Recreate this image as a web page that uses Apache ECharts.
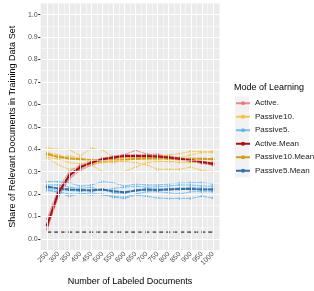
<!DOCTYPE html>
<html><head><meta charset="utf-8">
<script src="https://cdn.jsdelivr.net/npm/echarts@6/dist/echarts.min.js"></script>
<style>html,body{margin:0;padding:0;background:#fff}#c{width:314px;height:291px}</style>
</head><body><div id="c"></div>
<script>
const docs = [250,300,350,400,450,500,550,600,650,700,750,800,850,900,950,1000];
const yTicks = [0,0.1,0.2,0.3,0.4,0.5,0.6,0.7,0.8,0.9,1.0];
const baselineShare = 0.03;

const activeRuns = [
  [0.090,0.225,0.300,0.330,0.345,0.360,0.368,0.375,0.395,0.378,0.372,0.370,0.362,0.352,0.345,0.340],
  [0.072,0.212,0.290,0.325,0.342,0.356,0.368,0.376,0.372,0.376,0.378,0.366,0.360,0.356,0.346,0.332],
  [0.060,0.202,0.280,0.318,0.338,0.352,0.362,0.370,0.366,0.370,0.366,0.364,0.356,0.350,0.342,0.336],
  [0.050,0.192,0.272,0.312,0.332,0.348,0.358,0.366,0.362,0.364,0.360,0.356,0.352,0.346,0.338,0.328],
  [0.042,0.188,0.266,0.306,0.328,0.344,0.356,0.362,0.360,0.362,0.358,0.356,0.350,0.346,0.336,0.330]
];
const passive10Runs = [
  [0.405,0.400,0.398,0.370,0.405,0.395,0.365,0.350,0.365,0.370,0.365,0.375,0.380,0.390,0.390,0.385],
  [0.385,0.375,0.360,0.355,0.340,0.340,0.350,0.360,0.370,0.365,0.360,0.355,0.360,0.375,0.385,0.390],
  [0.375,0.365,0.370,0.360,0.350,0.345,0.340,0.350,0.355,0.350,0.350,0.345,0.350,0.345,0.350,0.360],
  [0.365,0.355,0.340,0.335,0.330,0.300,0.300,0.300,0.320,0.340,0.345,0.345,0.340,0.340,0.345,0.350],
  [0.360,0.330,0.310,0.320,0.335,0.340,0.345,0.345,0.340,0.330,0.310,0.310,0.310,0.320,0.305,0.300]
];
const passive5Runs = [
  [0.255,0.255,0.250,0.235,0.240,0.255,0.250,0.235,0.245,0.240,0.240,0.245,0.248,0.250,0.250,0.245],
  [0.240,0.240,0.230,0.225,0.230,0.215,0.225,0.230,0.235,0.230,0.232,0.236,0.240,0.240,0.236,0.235],
  [0.225,0.215,0.215,0.212,0.220,0.220,0.205,0.200,0.220,0.222,0.222,0.225,0.226,0.230,0.226,0.225],
  [0.220,0.205,0.190,0.200,0.205,0.195,0.190,0.185,0.200,0.210,0.210,0.205,0.200,0.210,0.210,0.210],
  [0.215,0.210,0.200,0.200,0.195,0.200,0.185,0.180,0.195,0.190,0.182,0.180,0.180,0.180,0.190,0.182]
];
const activeMean    = [0.062,0.205,0.283,0.320,0.340,0.355,0.363,0.370,0.371,0.370,0.367,0.363,0.357,0.350,0.343,0.335];
const passive10Mean = [0.378,0.365,0.358,0.355,0.350,0.350,0.350,0.352,0.357,0.358,0.358,0.360,0.358,0.357,0.357,0.355];
const passive5Mean  = [0.232,0.225,0.220,0.218,0.215,0.220,0.212,0.208,0.215,0.220,0.218,0.220,0.222,0.222,0.220,0.220];

const legendNames = ['Active.','Passive10.','Passive5.','Active.Mean','Passive10.Mean','Passive5.Mean'];
const colors = {
  'Active.':'#e36f74','Passive10.':'#f8bc2c','Passive5.':'#55aef0',
  'Active.Mean':'#a3111b','Passive10.Mean':'#cf9d22','Passive5.Mean':'#3570a8'
};
const FONT = 'Liberation Sans, Arial, sans-serif';

function pts(arr){ return docs.map((d,i)=>[d,arr[i]]); }

const step = docs[1]-docs[0];
const xMin = docs[0] - 0.6*step, xMax = docs[docs.length-1] + 0.6*step;
const yMin = -0.05, yMax = 1.05;

const gridLines = [];
docs.forEach(d=>gridLines.push({xAxis:d, lineStyle:{color:'#fff',width:1,type:'solid'}}));
docs.slice(0,-1).forEach(d=>gridLines.push({xAxis:d+step/2, lineStyle:{color:'#fff',width:0.5,type:'solid'}}));
yTicks.forEach(v=>gridLines.push({yAxis:v, lineStyle:{color:'#fff',width:1,type:'solid'}}));
yTicks.slice(0,-1).forEach(v=>gridLines.push({yAxis:+(v+0.05).toFixed(2), lineStyle:{color:'#fff',width:0.5,type:'solid'}}));

const series = [{
  type:'line', data:[], z:1, silent:true, showSymbol:false,
  markLine:{silent:true, symbol:'none', label:{show:false}, animation:false, data:gridLines}
}];

function runSeries(name, runs){
  runs.forEach(r=>series.push({
    name, type:'line', data:pts(r), z:2, symbol:'circle', symbolSize:2.5,
    lineStyle:{width:0.9, color:colors[name], opacity:0.8},
    itemStyle:{color:colors[name], opacity:0.8}
  }));
}
runSeries('Active.', activeRuns);
runSeries('Passive10.', passive10Runs);
runSeries('Passive5.', passive5Runs);

function meanSeries(name, arr){
  series.push({
    name, type:'line', data:pts(arr), z:3, symbol:'circle', symbolSize:3,
    lineStyle:{width:2, color:colors[name]},
    itemStyle:{color:colors[name]}
  });
}
meanSeries('Passive5.Mean', passive5Mean);
meanSeries('Passive10.Mean', passive10Mean);
meanSeries('Active.Mean', activeMean);

series.push({
  type:'line', z:4, silent:true, symbol:'none',
  data:[[docs[0],baselineShare],[docs[docs.length-1],baselineShare]],
  lineStyle:{color:'#000',width:1,type:[4,3]}
});

const chart = echarts.init(document.getElementById('c'), null, {renderer:'canvas'});
chart.setOption({
  animation:false,
  title:{text:'Mode of Learning', left:234, top:83, padding:0, textStyle:{fontFamily:FONT,fontSize:9,fontWeight:'normal',color:'#000'}},
  graphic:[{type:'rect', shape:{x:235, y:96.5, width:14, height:81}, style:{fill:'#f2f2f2'}, silent:true, z:-1}],
  legend:{
    data:legendNames, orient:'vertical', left:235, top:96.5, padding:0, itemWidth:14, itemHeight:5, itemGap:0,
    textStyle:{fontFamily:FONT, fontSize:8, color:'#1a1a1a', lineHeight:13.5},
    selectedMode:false
  },
  grid:{left:30, top:3.5, width:189.5, height:254, show:true, backgroundColor:'#ebebeb', borderWidth:0, containLabel:false},
  xAxis:{
    type:'value', min:xMin, max:xMax,
    name:'Number of Labeled Documents', nameLocation:'middle', nameGap:27,
    nameTextStyle:{fontFamily:FONT, fontSize:9, color:'#000'},
    axisLine:{show:false}, splitLine:{show:false},
    axisTick:{show:true, length:2.5, lineStyle:{color:'#333'}, customValues:docs},
    axisLabel:{customValues:docs, rotate:45, margin:3, fontFamily:FONT, fontSize:7, color:'#4d4d4d', formatter:v=>String(v)}
  },
  yAxis:{
    type:'value', min:yMin, max:yMax,
    name:'Share of Relevant Documents in Training Data Set', nameLocation:'middle', nameGap:21,
    nameTextStyle:{fontFamily:FONT, fontSize:9, color:'#000'},
    axisLine:{show:false}, splitLine:{show:false},
    axisTick:{show:true, length:2.5, lineStyle:{color:'#333'}, customValues:yTicks},
    axisLabel:{customValues:yTicks, margin:3, fontFamily:FONT, fontSize:7, color:'#4d4d4d', formatter:v=>v.toFixed(1)}
  },
  series
});
</script></body></html>
